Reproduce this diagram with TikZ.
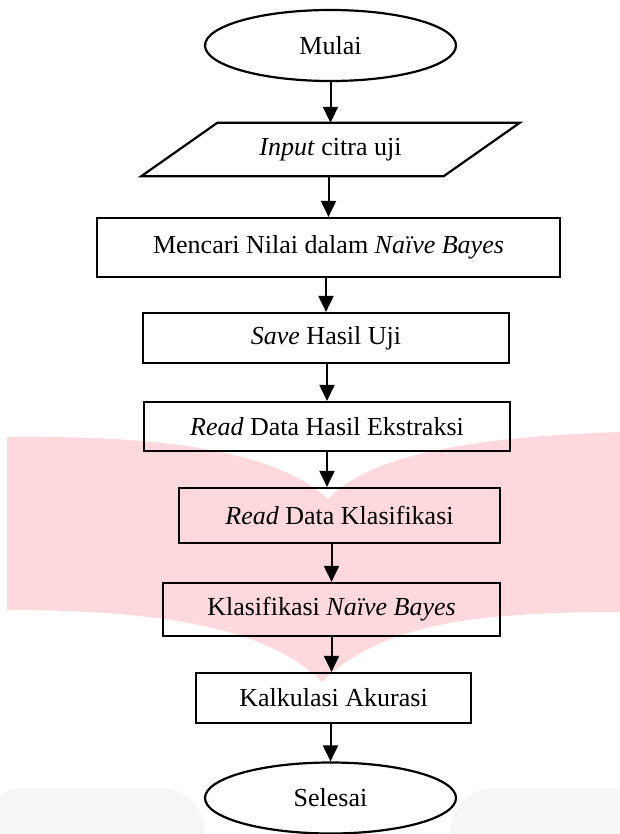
\documentclass[tikz,border=0pt]{standalone}
\usepackage{fontspec}
\setmainfont{Liberation Serif}
\usetikzlibrary{arrows.meta,shapes.geometric,calc}
\definecolor{wmpink}{RGB}{253,216,221}
\definecolor{wmgray}{RGB}{246,246,246}
\begin{document}
\begin{tikzpicture}[x=1pt,y=-1pt,
  every node/.style={font=\fontsize{26}{30}\selectfont},
  boxnode/.style={draw, line width=2.2pt, rectangle, inner sep=0pt},
  termnode/.style={draw, fill=white, line width=2.2pt, ellipse, inner sep=0pt,
                   minimum width=251pt, minimum height=71pt},
  plainnode/.style={inner sep=0pt},
  arr/.style={line width=2pt, -{Triangle[width=15pt,length=16pt]}}]

% page and background
\useasboundingbox (0,0) rectangle (620,834);
\fill[white] (0,0) rectangle (620,834);

% faint grey shapes near the bottom edge
\fill[wmgray, rounded corners=45pt] (-20,788) rectangle (205,900);
\fill[wmgray, rounded corners=45pt] (450,788) rectangle (680,900);

% pink chevron in the background
\fill[wmpink] (7,437) .. controls (180,435) and (280,455) .. (328,499)
  .. controls (370,455) and (470,437) .. (620,432)
  -- (620,612)
  .. controls (470,612) and (380,625) .. (322,682)
  .. controls (270,630) and (170,610) .. (7,610) -- cycle;

% flowchart nodes
\node[termnode] (mulai) at (330.5,45.5) {Mulai};

\node[plainnode, minimum width=226pt, minimum height=53pt] (input) at (330.5,149.5)
  {\emph{Input} citra uji};
\draw[line width=2.2pt, line join=miter]
  (input.north west) -- ([xshift=76pt]input.north east)
  -- (input.south east) -- ([xshift=-76pt]input.south west) -- cycle;

\node[boxnode, minimum width=463pt, minimum height=59pt] (mencari) at (328.5,247.5)
  {Mencari Nilai dalam \emph{Naïve Bayes}};
\node[boxnode, minimum width=366pt, minimum height=50pt] (save) at (326,338)
  {\emph{Save} Hasil Uji};
\node[boxnode, minimum width=366pt, minimum height=49pt] (rhasil) at (327,426.5)
  {\emph{Read} Data Hasil Ekstraksi};
\node[boxnode, minimum width=321pt, minimum height=55pt] (rklas) at (339.5,515.5)
  {\emph{Read} Data Klasifikasi};
\node[boxnode, minimum width=337pt, minimum height=53pt] (klas) at (331.5,609.5)
  {Klasifikasi \emph{Naïve Bayes}};
\node[boxnode, minimum width=275pt, minimum height=50pt] (kal) at (333.5,698)
  {Kalkulasi Akurasi};
\node[termnode] (selesai) at (330.5,798) {Selesai};

% connectors
\draw[arr] (mulai.south) -- (input.north);
\draw[arr] (input.south -| mencari.north) -- (mencari.north);
\draw[arr] (mencari.south -| save.north) -- (save.north);
\draw[arr] (save.south -| rhasil.north) -- (rhasil.north);
\draw[arr] (rhasil.south) -- (rhasil.south |- rklas.north);
\draw[arr] (rklas.south -| klas.north) -- (klas.north);
\draw[arr] (klas.south) -- (klas.south |- kal.north);
\draw[arr] (kal.south -| selesai.north) -- (selesai.north);
\end{tikzpicture}
\end{document}
